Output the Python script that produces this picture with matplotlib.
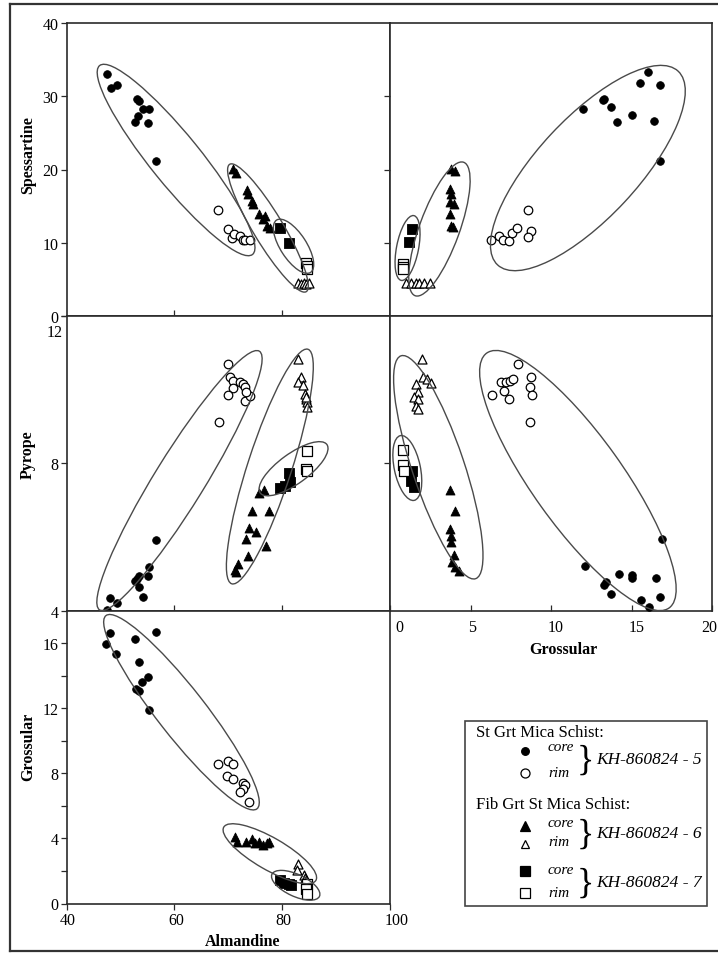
import matplotlib
matplotlib.use('Agg')
import matplotlib.pyplot as plt
from matplotlib.patches import Ellipse, Rectangle
from matplotlib.lines import Line2D
from matplotlib.transforms import IdentityTransform

# ---------------- data ----------------
# Panel: Spessartine vs Almandine
sa_core5_alm = [47.4, 48.2, 49.3, 53.0, 53.5, 54.1, 55.3, 53.3, 52.7, 55.1, 56.6]
sa_core5_sps = [33.1, 31.2, 31.6, 29.6, 29.4, 28.3, 28.3, 27.3, 26.5, 26.4, 21.1]
sa_rim5_alm = [68.1, 69.9, 70.6, 71.1, 72.2, 72.7, 73.1, 74.0]
sa_rim5_sps = [14.4, 11.9, 10.6, 11.2, 10.9, 10.3, 10.3, 10.3]
sa_core6_alm = [70.9, 71.4, 73.4, 73.7, 74.3, 74.6, 75.6, 76.8, 76.5, 77.1, 77.7]
sa_core6_sps = [20.1, 19.5, 17.2, 16.6, 15.7, 15.3, 13.9, 13.7, 13.2, 12.3, 12.0]
sa_rim6_alm = [82.9, 83.5, 84.0, 84.5, 85.0]
sa_rim6_sps = [4.5, 4.4, 4.5, 4.4, 4.5]
sa_core7_alm = [79.6, 81.3]
sa_core7_sps = [12.0, 9.9]
sa_rim7_alm = [84.5, 84.6, 84.6]
sa_rim7_sps = [7.2, 6.8, 6.4]

# Panel: Spessartine vs Grossular
sg_core5_grs = [16.0, 15.5, 16.8, 12.0, 13.2, 13.3, 13.7, 14.1, 15.0, 16.4, 16.8]
sg_core5_sps = [33.4, 31.8, 31.6, 28.3, 29.5, 29.7, 28.5, 26.5, 27.4, 26.7, 21.2]
sg_rim5_grs = [8.6, 6.25, 6.8, 7.0, 7.4, 7.6, 7.9, 8.75, 8.6]
sg_rim5_sps = [14.4, 10.3, 10.9, 10.4, 10.2, 11.3, 12.0, 11.6, 10.7]
sg_core6_grs = [3.8, 4.06, 3.75, 3.8, 3.7, 4.0, 3.7, 3.8, 3.9]
sg_core6_sps = [20.1, 19.8, 17.3, 16.6, 15.5, 15.3, 13.9, 12.3, 12.1]
sg_rim6_grs = [1.0, 1.3, 1.6, 1.8, 2.1, 2.5]
sg_rim6_sps = [4.5, 4.5, 4.5, 4.5, 4.5, 4.5]
sg_core7_grs = [1.35, 1.2]
sg_core7_sps = [11.9, 10.1]
sg_rim7_grs = [0.8, 0.8, 0.8]
sg_rim7_sps = [7.1, 6.7, 6.4]

# Panel: Pyrope vs Almandine
pa_core5_alm = [56.6, 55.3, 55.1, 53.0, 53.5, 52.7, 53.5, 54.1, 48.0, 49.3, 47.4]
pa_core5_prp = [5.93, 5.18, 4.95, 4.86, 4.95, 4.81, 4.63, 4.38, 4.34, 4.21, 4.03]
pa_rim5_alm = [69.9, 70.3, 70.9, 70.9, 72.2, 72.7, 73.0, 70.0, 73.0, 74.0, 73.3, 68.3]
pa_rim5_prp = [10.68, 10.34, 10.22, 10.04, 10.2, 10.15, 10.06, 9.84, 9.70, 9.82, 9.93, 9.11]
pa_core6_alm = [75.7, 76.7, 74.3, 77.5, 73.9, 75.1, 73.3, 77.0, 73.7, 71.8, 71.2, 71.5]
pa_core6_prp = [7.19, 7.26, 6.70, 6.70, 6.24, 6.13, 5.95, 5.75, 5.49, 5.27, 5.11, 5.06]
pa_rim6_alm = [82.9, 83.5, 83.0, 83.9, 84.2, 84.4, 84.6, 84.6, 84.5]
pa_rim6_prp = [10.83, 10.34, 10.2, 10.13, 9.88, 9.75, 9.66, 9.52, 9.8]
pa_core7_alm = [79.6, 81.2, 81.4, 80.5]
pa_core7_prp = [7.32, 7.74, 7.5, 7.39]
pa_rim7_alm = [84.6, 84.5, 84.6]
pa_rim7_prp = [8.34, 7.85, 7.78]

# Panel: Pyrope vs Grossular
pg_core5_grs = [16.9, 12.1, 13.4, 13.3, 13.75, 14.2, 15.0, 15.0, 16.5, 15.6, 16.8, 16.1]
pg_core5_prp = [5.95, 5.2, 4.79, 4.70, 4.45, 5.0, 4.97, 4.88, 4.88, 4.29, 4.38, 4.11]
pg_rim5_grs = [7.96, 6.92, 7.19, 7.46, 7.67, 8.75, 6.31, 7.1, 7.4, 8.7, 8.81, 8.67]
pg_rim5_prp = [10.70, 10.2, 10.2, 10.24, 10.29, 10.35, 9.84, 9.97, 9.75, 10.06, 9.84, 9.13]
pg_core6_grs = [3.75, 4.06, 3.75, 3.8, 3.8, 3.96, 3.86, 4.06, 4.27]
pg_core6_prp = [7.26, 6.71, 6.22, 6.03, 5.86, 5.51, 5.31, 5.18, 5.09]
pg_rim6_grs = [1.98, 2.04, 2.29, 2.54, 1.63, 1.71, 1.46, 1.77, 1.63, 1.71]
pg_rim6_prp = [10.83, 10.35, 10.29, 10.17, 10.15, 9.93, 9.79, 9.75, 9.56, 9.48]
pg_core7_grs = [1.35, 1.29, 1.46]
pg_core7_prp = [7.8, 7.53, 7.35]
pg_rim7_grs = [0.83, 0.79, 0.88]
pg_rim7_prp = [8.36, 7.94, 7.8]

# Panel: Grossular vs Almandine
ga_core5_alm = [47.3, 48.0, 56.6, 49.1, 52.7, 53.5, 55.1, 53.9, 52.9, 53.5, 55.2]
ga_core5_grs = [15.96, 16.6, 16.7, 15.35, 16.27, 14.82, 13.93, 13.6, 13.19, 13.05, 11.89]
ga_rim5_alm = [68.1, 69.9, 70.8, 69.7, 70.9, 72.8, 73.1, 72.7, 72.2, 73.9]
ga_rim5_grs = [8.56, 8.73, 8.6, 7.85, 7.65, 7.38, 7.3, 7.03, 6.83, 6.22]
ga_core6_alm = [71.2, 71.6, 73.3, 74.3, 74.9, 75.7, 76.5, 77.1, 77.6]
ga_core6_grs = [4.08, 3.8, 3.77, 3.98, 3.7, 3.77, 3.6, 3.7, 3.8]
ga_rim6_alm = [82.9, 82.7, 84.0, 84.2, 84.5]
ga_rim6_grs = [2.41, 2.04, 1.77, 1.57, 1.43]
ga_core7_alm = [79.6, 80.3, 81.3, 81.7]
ga_core7_grs = [1.43, 1.29, 1.22, 1.16]
ga_rim7_alm = [84.6, 84.5, 84.6]
ga_rim7_grs = [1.22, 0.92, 0.61]

# Group ellipses: (center x, center y in data units, semi-major px, semi-minor px, angle deg)
sa_ellipses = [(60.3, 21.3, 121.5, 25, -51), (77.35, 12.0, 74.3, 15, -59), (82.1, 9.5, 31.2, 13, -57)]
sg_ellipses = [(12.29, 20.2, 132.4, 50, 47), (3.07, 11.86, 71, 20, 70), (1.09, 9.26, 33, 11, 79)]
pa_ellipses = [(60.93, 7.53, 152, 25, 58.3), (77.7, 7.91, 123.3, 22, 72), (82.1, 7.85, 41.2, 15, 36)]
pg_ellipses = [(11.67, 7.53, 156.7, 45, -54.4), (3.0, 7.89, 117.5, 26, -71.5), (1.075, 7.87, 33.1, 13, -78)]
ga_ellipses = [(61.3, 11.76, 122.6, 24, -52), (77.7, 3.06, 53.2, 16, -30), (82.5, 1.12, 26.2, 11, -25)]

alm_ticks = [40, 60, 80, 100]
grs_ticks = [0, 5, 10, 15, 20]

legend_heads = ['St Grt Mica Schist:', 'Fib Grt St Mica Schist:']
legend_samples = ['KH-860824 - 5', 'KH-860824 - 6', 'KH-860824 - 7']

# ---------------- figure ----------------
plt.rcParams['font.family'] = ['Liberation Serif', 'DejaVu Serif']
W, H = 718, 954
fig = plt.figure(figsize=(W / 100, H / 100), dpi=100)


def rect(x0, y0, x1, y1):
    return [x0 / W, 1 - y1 / H, (x1 - x0) / W, (y1 - y0) / H]


def fp(x, y):
    return (x / W, 1 - y / H)


STY = {
    'core5': dict(marker='o', s=30, facecolors='black', edgecolors='black', linewidths=0.6),
    'rim5': dict(marker='o', s=38, facecolors='white', edgecolors='black', linewidths=0.9),
    'core6': dict(marker='^', s=42, facecolors='black', edgecolors='black', linewidths=0.6),
    'rim6': dict(marker='^', s=42, facecolors='white', edgecolors='black', linewidths=0.9),
    'core7': dict(marker='s', s=50, facecolors='black', edgecolors='black', linewidths=0.6),
    'rim7': dict(marker='s', s=46, facecolors='white', edgecolors='black', linewidths=0.9),
}


def plot_panel(ax, groups, ellipses):
    for key, xs, ys in groups:
        ax.scatter(xs, ys, zorder=3, clip_on=False, **STY[key])
    for cx, cy, a, b, ang in ellipses:
        dx, dy = ax.transData.transform((cx, cy))
        e = Ellipse((dx, dy), 2 * a, 2 * b, angle=ang, transform=IdentityTransform(),
                    fill=False, edgecolor='#4a4a4a', linewidth=1.0, zorder=5)
        fig.add_artist(e)


def style_spines(ax):
    for s in ax.spines.values():
        s.set_color('#2a2a2a')
        s.set_linewidth(1.2)


def xlabels(ax, values, y_img, shifts):
    # tick labels placed through the axis' own data transform, with small pixel nudges
    for v, sh in zip(values, shifts):
        dx, _ = ax.transData.transform((v, ax.get_ylim()[0]))
        fig.text((dx + sh) / W, 1 - y_img / H, str(v), ha='center', va='center', fontsize=11.5)


XL, XM, XR = 66.7, 390, 712
YT, Y1, Y2, YB = 24.3, 316.7, 611.7, 904.5

ax_sa = fig.add_axes(rect(XL, YT, XM, Y1))
ax_sg = fig.add_axes(rect(XM, YT, XR, Y1))
ax_pa = fig.add_axes(rect(XL, Y1, XM, Y2))
ax_pg = fig.add_axes(rect(XM, Y1, XR, Y2))
ax_ga = fig.add_axes(rect(XL, Y2, XM, YB))

for ax in (ax_sa, ax_pa, ax_ga):
    ax.set_xlim(40, 100)
for ax in (ax_sg, ax_pg):
    ax.set_xlim(0, 20)
ax_sa.set_ylim(0, 40)
ax_sg.set_ylim(0, 40)
ax_pa.set_ylim(4, 12)
ax_pg.set_ylim(4, 12)
ax_ga.set_ylim(0, 18)

for ax in (ax_sa, ax_sg, ax_pa, ax_pg, ax_ga):
    style_spines(ax)
    ax.tick_params(labelsize=11.5, width=0.9, length=4, color='#2a2a2a')

# ticks
ax_sa.set_yticks([0, 10, 20, 30, 40])
ax_sa.tick_params(axis='y', direction='out', pad=2)
ax_sa.set_xticks([60, 80])
ax_sa.tick_params(axis='x', direction='in', labelbottom=False)

ax_sg.set_yticks([10, 20, 30])
ax_sg.tick_params(axis='y', direction='out', labelleft=False)
ax_sg.set_xticks([5, 10, 15])
ax_sg.tick_params(axis='x', direction='out', labelbottom=False)

ax_pa.set_yticks([4, 8, 12])
ax_pa.set_yticklabels(['4', '8', ''])
ax_pa.tick_params(axis='y', direction='out', pad=2)
ax_pa.set_xticks([60, 80])
ax_pa.tick_params(axis='x', direction='in', labelbottom=False)

ax_pg.set_yticks([8])
ax_pg.tick_params(axis='y', direction='out', labelleft=False)
ax_pg.set_xticks(grs_ticks)
ax_pg.tick_params(axis='x', direction='in', labelbottom=False)

ax_ga.set_yticks([0, 4, 8, 12, 16])
ax_ga.set_yticks([2, 6, 10, 14], minor=True)
ax_ga.tick_params(axis='y', which='both', direction='out', pad=2)
ax_ga.tick_params(axis='y', which='minor', length=4, width=0.9, color='#2a2a2a')
ax_ga.set_xticks(alm_ticks)
ax_ga.tick_params(axis='x', direction='out', labelbottom=False)

xlabels(ax_ga, alm_ticks, 921, [1.5, 1.5, 1.5, 7])
xlabels(ax_pg, grs_ticks, 628, [9, 1.5, 5, 5, -3])

fig.text(*fp(62.5, 333), '12', ha='right', va='center', fontsize=11.5)

# data
plot_panel(ax_sa, [('core5', sa_core5_alm, sa_core5_sps), ('rim5', sa_rim5_alm, sa_rim5_sps),
                   ('core6', sa_core6_alm, sa_core6_sps), ('rim6', sa_rim6_alm, sa_rim6_sps),
                   ('core7', sa_core7_alm, sa_core7_sps), ('rim7', sa_rim7_alm, sa_rim7_sps)], sa_ellipses)
plot_panel(ax_sg, [('core5', sg_core5_grs, sg_core5_sps), ('rim5', sg_rim5_grs, sg_rim5_sps),
                   ('core6', sg_core6_grs, sg_core6_sps), ('rim6', sg_rim6_grs, sg_rim6_sps),
                   ('core7', sg_core7_grs, sg_core7_sps), ('rim7', sg_rim7_grs, sg_rim7_sps)], sg_ellipses)
plot_panel(ax_pa, [('core5', pa_core5_alm, pa_core5_prp), ('rim5', pa_rim5_alm, pa_rim5_prp),
                   ('core6', pa_core6_alm, pa_core6_prp), ('rim6', pa_rim6_alm, pa_rim6_prp),
                   ('core7', pa_core7_alm, pa_core7_prp), ('rim7', pa_rim7_alm, pa_rim7_prp)], pa_ellipses)
plot_panel(ax_pg, [('core5', pg_core5_grs, pg_core5_prp), ('rim5', pg_rim5_grs, pg_rim5_prp),
                   ('core6', pg_core6_grs, pg_core6_prp), ('rim6', pg_rim6_grs, pg_rim6_prp),
                   ('core7', pg_core7_grs, pg_core7_prp), ('rim7', pg_rim7_grs, pg_rim7_prp)], pg_ellipses)
plot_panel(ax_ga, [('core5', ga_core5_alm, ga_core5_grs), ('rim5', ga_rim5_alm, ga_rim5_grs),
                   ('core6', ga_core6_alm, ga_core6_grs), ('rim6', ga_rim6_alm, ga_rim6_grs),
                   ('core7', ga_core7_alm, ga_core7_grs), ('rim7', ga_rim7_alm, ga_rim7_grs)], ga_ellipses)

# axis titles
lab = dict(fontsize=11.5, fontweight='bold', ha='center', va='center')
fig.text(*fp(28, 155), 'Spessartine', rotation=90, **lab)
fig.text(*fp(28, 455), 'Pyrope', rotation=90, **lab)
fig.text(*fp(28, 747), 'Grossular', rotation=90, **lab)
fig.text(*fp(243, 942), 'Almandine', **lab)
fig.text(*fp(563, 650), 'Grossular', **lab)

# outer frame
fcol = '#333333'
fig.add_artist(Line2D([10 / W, 10 / W], [1 - 5 / H, 1 - 951.5 / H], color=fcol, lw=1.6))
fig.add_artist(Line2D([10 / W, 1.0], [1 - 5 / H, 1 - 5 / H], color=fcol, lw=1.6))
fig.add_artist(Line2D([10 / W, 1.0], [1 - 951.5 / H, 1 - 951.5 / H], color=fcol, lw=1.6))

# legend box
lx0, ly0, lx1, ly1 = 465, 722, 707, 907
fig.add_artist(Rectangle(fp(lx0, ly1), (lx1 - lx0) / W, (ly1 - ly0) / H, transform=fig.transFigure,
                         fill=False, edgecolor='#444444', lw=1.2))
fig.text(*fp(476, 733), legend_heads[0], fontsize=12, ha='left', va='center')
fig.text(*fp(476, 805), legend_heads[1], fontsize=12, ha='left', va='center')

leg_rows = [
    ('o', 'black', 5.5, 751.7, 747.5, 'core'), ('o', 'white', 6.5, 773.5, 773.5, 'rim'),
    ('^', 'black', 6.5, 826.5, 823.5, 'core'), ('^', 'white', 6.0, 844.5, 842.5, 'rim'),
    ('s', 'black', 7.5, 871.5, 870.5, 'core'), ('s', 'white', 7.5, 894, 894, 'rim'),
]
for mk, fc, ms, ym, yt, txt in leg_rows:
    fig.add_artist(Line2D([525 / W], [1 - ym / H], marker=mk, markersize=ms, markerfacecolor=fc,
                          markeredgecolor='black', markeredgewidth=0.9, linestyle='none',
                          transform=fig.transFigure))
    fig.text(*fp(548, yt), txt, fontsize=11, style='italic', ha='left', va='center')

for yc, name in zip([760, 834, 883], legend_samples):
    fig.text(*fp(577, yc + 1), '}', fontsize=26, ha='left', va='center', fontweight='light')
    fig.text(*fp(596, yc), name, fontsize=12.5, style='italic', ha='left', va='center')

fig.savefig('out.png', dpi=100)
